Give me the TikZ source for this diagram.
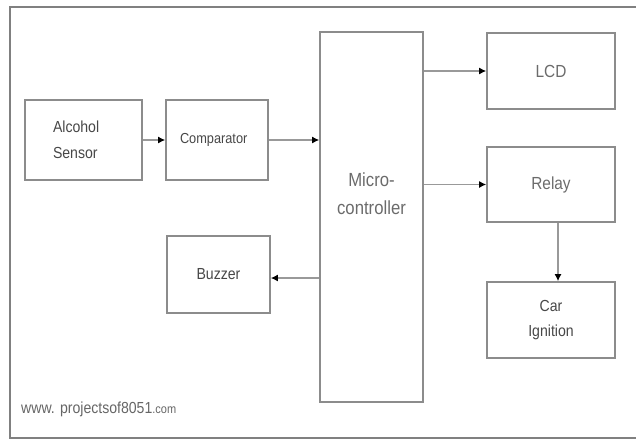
\documentclass[tikz,border=0pt]{standalone}
\usepackage{fontspec}
\setmainfont{Liberation Sans}[FakeStretch=0.88]
\usetikzlibrary{arrows.meta}

\begin{document}
\begin{tikzpicture}[x=1pt,y=-1pt]
	 \tikzstyle{block}=[draw=black!45,line width=1.6pt,rectangle,inner sep=0pt,font=\fontsize{16}{26}\selectfont,text=black!72]
	 \tikzstyle{light}=[font=\fontsize{17.5}{28}\selectfont,text=black!58]
	 \tikzstyle{edge} = [draw,line width=1.8pt,black!40,-{Latex[black,length=7pt,width=7pt]}]
	 \useasboundingbox (0,0) rectangle (636,439);
	 \draw[black!50,line width=1.8pt] (640,7) -- (10,7) -- (10,438) -- (640,438);
	 \node[block,minimum width=117pt,minimum height=80pt,text width=61pt,align=left] (sensor) at (83.5,140) {Alcohol\\Sensor};
	 \node[block,minimum width=102pt,minimum height=80pt,text width=74pt,align=left,font=\fontsize{14.5}{18}\selectfont] (comp) at (217,140) {Comparator};
	 \node[block,minimum width=103pt,minimum height=370pt] (mc) at (371.5,217) {};
	 \node[light,align=center,font=\fontsize{19}{28}\selectfont] (mctext) at (371.5,194) {Micro-\\controller};
	 \node[block,light,minimum width=128pt,minimum height=76pt] (lcd) at (551,71) {LCD};
	 \node[block,light,minimum width=128pt,minimum height=75pt] (relay) at (551,184.5) {Relay};
	 \node[block,minimum width=128pt,minimum height=76pt,align=center,font=\fontsize{16}{25}\selectfont] (ign) at (551,320) {Car\\Ignition};
	 \node[block,minimum width=103pt,minimum height=77pt] (buzzer) at (218.5,274.5) {Buzzer};
	 \node[anchor=base west,inner sep=0pt,text=black!60] (site) at (21,413) {\fontsize{16}{18}\selectfont www. projectsof8051\fontsize{12.5}{14}\selectfont.com};
	 \draw[edge] (sensor) -- (comp);
	 \draw[edge] (comp) -- (comp -| mc.west);
	 \draw[edge] (mc.east |- lcd) -- (lcd.west);
	 \draw[edge] (mc.east |- relay) -- (relay.west);
	 \draw[edge] (mc.west |- 0,278) -- (buzzer.east |- 0,278);
	 \draw[edge] ([xshift=7pt]relay.south) -- ([xshift=7pt]ign.north);
 \end{tikzpicture}
\end{document}
